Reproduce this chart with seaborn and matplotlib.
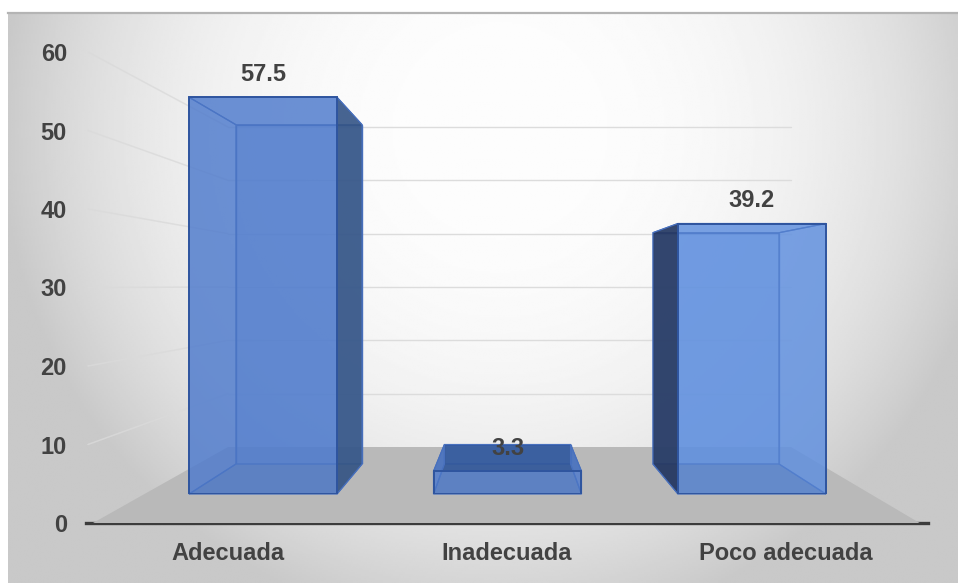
import numpy as np
import pandas as pd
import matplotlib
matplotlib.use("Agg")
import matplotlib.pyplot as plt
from matplotlib.colors import to_rgba
from matplotlib.patches import Polygon
import seaborn as sns

categories = ["Adecuada", "Inadecuada", "Poco adecuada"]
values = [57.5, 3.3, 39.2]
y_ticks = [0, 10, 20, 30, 40, 50, 60]
bar_colors = ["#507ccd", "#507ccd", "#6090df"]
top_colors = ["#507ccd", "#2a4f90", "#6090df"]

W, H = 958, 583
sns.set_theme(style="white")
plt.rcParams["font.family"] = ["Liberation Sans", "DejaVu Sans"]
TEXT = "#424242"
FS = 17

fig = plt.figure(figsize=(W / 100, H / 100), dpi=100, facecolor="white")


def add(left, right, top, bottom, z):
    a = fig.add_axes([left / W, 1 - bottom / H, (right - left) / W, (bottom - top) / H], zorder=z)
    a.patch.set_alpha(0)
    return a


# backdrop gradient
ax_bg = add(8, 958, 13, 583, 0)
xx, yy = np.meshgrid(np.linspace(8, 958, 480), np.linspace(13, 583, 290))
r = np.sqrt(((xx - 500) / 500) ** 2 + ((yy - 130) / 505) ** 2)
shade = (253 - 52 * np.clip(r, 0, 1.0) ** 2.6) / 255
ax_bg.imshow(shade, cmap="gray", vmin=0, vmax=1, aspect="auto", interpolation="bilinear")
ax_bg.set_xticks([])
ax_bg.set_yticks([])
for name, sp in ax_bg.spines.items():
    sp.set_visible(name == "top")
ax_bg.spines["top"].set_color("#b4b4b4")
ax_bg.spines["top"].set_linewidth(1.6)

# side wall plane: carries the value axis and the category axis
ax_wall = add(86, 928, 52, 523, 1)
ax_wall.set_xlim((86 - 228) / 279, (928 - 228) / 279)
ax_wall.set_ylim(0, 60)
ax_wall.set_yticks(y_ticks)
ax_wall.set_xticks(range(3))
ax_wall.set_xticklabels(categories)
ax_wall.tick_params(axis="y", length=0, pad=13.7, labelsize=FS, labelcolor=TEXT)
ax_wall.tick_params(axis="x", length=0, pad=14, labelsize=FS, labelcolor=TEXT)
for lab in ax_wall.get_xticklabels() + ax_wall.get_yticklabels():
    lab.set_fontweight("bold")
for name, sp in ax_wall.spines.items():
    sp.set_visible(name == "bottom")
ax_wall.spines["bottom"].set_color("#3c3c3c")
ax_wall.spines["bottom"].set_linewidth(2.4)

# back wall plane
ax_rear = add(228, 791, 127, 447, 1)
ax_rear.set_xlim(0, 1)
ax_rear.set_ylim(0, 60)
ax_rear.axis("off")

# bar planes, rear and front
frame = pd.DataFrame({"cat": categories, "val": values})
ax_back = add(299 - 104.25, 299 + 521.25, 464 - 354, 464, 2)
ax_front = add(263 - 122.25, 263 + 611.25, 494 - 414, 494, 4)
EDGE = "#2f559f"
SOFT = "#4870bd"
for a, edge, lw, alpha in ((ax_back, SOFT, 1.0, 0.8), (ax_front, EDGE, 1.4, 0.45)):
    sns.barplot(data=frame, x="cat", y="val", ax=a, color=bar_colors[0], saturation=1, width=0.605, legend=False)
    a.set_xlim(-0.5, 2.5)
    a.set_ylim(0, 60)
    a.axis("off")
    for p, c in zip(a.patches, bar_colors):
        p.set_facecolor(to_rgba(c, alpha))
        p.set_edgecolor(edge)
        p.set_linewidth(lw)

# layers used to join the planes
overlay = add(0, W, 0, H, 3)
overlay.set_xlim(0, W)
overlay.set_ylim(H, 0)
overlay.axis("off")
under = add(0, W, 0, H, 1)
under.set_xlim(0, W)
under.set_ylim(H, 0)
under.axis("off")


def to_overlay(ax, x, y):
    return overlay.transData.inverted().transform(ax.transData.transform((x, y)))


# floor and gridlines, all taken from the value scale of each plane
fc = [to_overlay(ax_wall, ax_wall.get_xlim()[0] + 0.025, 0),
      to_overlay(ax_rear, 0, 0),
      to_overlay(ax_rear, 1, 0),
      to_overlay(ax_wall, ax_wall.get_xlim()[1] - 0.03, 0)]
under.add_patch(Polygon(fc, closed=True, facecolor="#b9b9b9", edgecolor="none"))
for t in y_ticks[1:]:
    a0 = to_overlay(ax_wall, ax_wall.get_xlim()[0] + 0.007, t)
    a1 = to_overlay(ax_rear, 0, t)
    a2 = to_overlay(ax_rear, 1, t)
    under.plot([a0[0], a1[0]], [a0[1], a1[1]], color="#dadada", lw=1.1, alpha=0.8)
    under.plot([a1[0], a2[0]], [a1[1], a2[1]], color="#dcdcdc", lw=1.0)

# side, top and bottom faces joined between the two bar planes
for bf, bb, c, tc in zip(ax_front.patches, ax_back.patches, bar_colors, top_colors):
    x0f, x1f = bf.get_x(), bf.get_x() + bf.get_width()
    x0b, x1b = bb.get_x(), bb.get_x() + bb.get_width()
    v = bf.get_height()
    ftl, ftr = to_overlay(ax_front, x0f, v), to_overlay(ax_front, x1f, v)
    fbl, fbr = to_overlay(ax_front, x0f, 0), to_overlay(ax_front, x1f, 0)
    btl, btr = to_overlay(ax_back, x0b, v), to_overlay(ax_back, x1b, v)
    bbl, bbr = to_overlay(ax_back, x0b, 0), to_overlay(ax_back, x1b, 0)
    left_dark = btl[0] < ftl[0]
    right_dark = btr[0] > ftr[0]
    face = to_rgba(c, 0.7)
    overlay.add_patch(Polygon([fbl, fbr, bbr, bbl], facecolor=to_rgba("#3264b9", 0.6), edgecolor=SOFT, lw=0.9))
    overlay.add_patch(Polygon([ftl, ftr, btr, btl], facecolor=to_rgba(tc, 0.7), edgecolor=SOFT, lw=0.9))
    overlay.add_patch(Polygon([ftl, fbl, bbl, btl],
                              facecolor=(0.13, 0.19, 0.33, 0.82) if left_dark else face,
                              edgecolor=SOFT, lw=0.9))
    overlay.add_patch(Polygon([ftr, fbr, bbr, btr],
                              facecolor=(0.19, 0.30, 0.46, 0.72) if right_dark else face,
                              edgecolor=SOFT, lw=0.9))

# value labels sit above the front top edge
for p, v in zip(ax_front.patches, values):
    ax_front.annotate(f"{v:.1f}", (p.get_x() + p.get_width() / 2, v), xytext=(0, 16.5),
                      textcoords="offset points", ha="center", va="center",
                      fontsize=FS, fontweight="bold", color=TEXT, annotation_clip=False)

fig.savefig("out.png", dpi=100, facecolor="white")
